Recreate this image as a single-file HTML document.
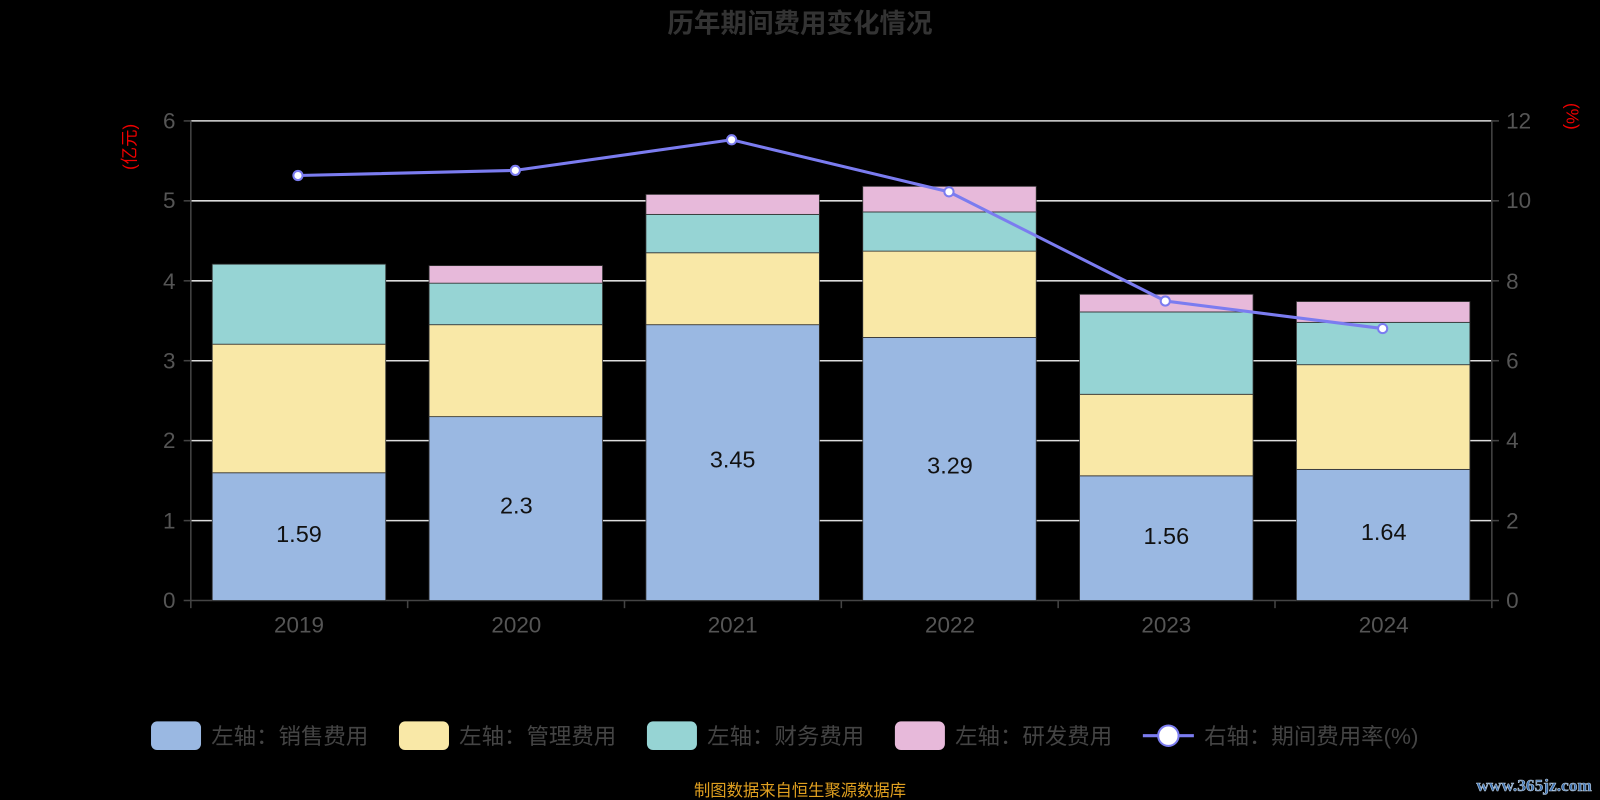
<!DOCTYPE html>
<html><head><meta charset="utf-8"><style>html,body{margin:0;padding:0;background:#000;}svg{display:block}</style></head>
<body>
<svg width="1600" height="800" viewBox="0 0 1568 784" xmlns="http://www.w3.org/2000/svg" font-family="'Liberation Sans','Noto Sans CJK SC',sans-serif">
<rect width="1568" height="784" fill="#000"/>
<text x="784" y="32" text-anchor="middle" font-size="26" font-weight="bold" fill="#333">历年期间费用变化情况</text>
<g stroke="#ddd" stroke-width="1.5">
<line x1="187" x2="1462" y1="118.5" y2="118.5"/>
<line x1="187" x2="1462" y1="196.8" y2="196.8"/>
<line x1="187" x2="1462" y1="275.2" y2="275.2"/>
<line x1="187" x2="1462" y1="353.5" y2="353.5"/>
<line x1="187" x2="1462" y1="431.8" y2="431.8"/>
<line x1="187" x2="1462" y1="510.2" y2="510.2"/>
</g>
<g stroke="#444" stroke-width="1.5" fill="none">
<line x1="187" x2="187" y1="118" y2="589"/>
<line x1="1462" x2="1462" y1="118" y2="589"/>
<line x1="187" x2="1462" y1="588.5" y2="588.5"/>
<line x1="180" x2="187" y1="118.5" y2="118.5"/><line x1="180" x2="187" y1="196.8" y2="196.8"/><line x1="180" x2="187" y1="275.2" y2="275.2"/><line x1="180" x2="187" y1="353.5" y2="353.5"/><line x1="180" x2="187" y1="431.8" y2="431.8"/><line x1="180" x2="187" y1="510.2" y2="510.2"/><line x1="180" x2="187" y1="588.5" y2="588.5"/>
<line x1="1462" x2="1469" y1="118.5" y2="118.5"/><line x1="1462" x2="1469" y1="196.8" y2="196.8"/><line x1="1462" x2="1469" y1="275.2" y2="275.2"/><line x1="1462" x2="1469" y1="353.5" y2="353.5"/><line x1="1462" x2="1469" y1="431.8" y2="431.8"/><line x1="1462" x2="1469" y1="510.2" y2="510.2"/><line x1="1462" x2="1469" y1="588.5" y2="588.5"/>
<line x1="187" x2="187" y1="589" y2="596"/><line x1="399.5" x2="399.5" y1="589" y2="596"/><line x1="612" x2="612" y1="589" y2="596"/><line x1="824.5" x2="824.5" y1="589" y2="596"/><line x1="1037" x2="1037" y1="589" y2="596"/><line x1="1249.5" x2="1249.5" y1="589" y2="596"/><line x1="1462" x2="1462" y1="589" y2="596"/>
</g>
<g fill="#555" font-size="22" text-anchor="end">
<text x="172" y="126">6</text><text x="172" y="204">5</text><text x="172" y="283">4</text><text x="172" y="361">3</text><text x="172" y="439">2</text><text x="172" y="518">1</text><text x="172" y="596">0</text>
</g>
<g fill="#555" font-size="22" text-anchor="start">
<text x="1476" y="126">12</text><text x="1476" y="204">10</text><text x="1476" y="283">8</text><text x="1476" y="361">6</text><text x="1476" y="439">4</text><text x="1476" y="518">2</text><text x="1476" y="596">0</text>
</g>
<text transform="translate(133,144) rotate(-90)" text-anchor="middle" font-size="17" fill="#e00">(亿元)</text>
<text transform="translate(1535,114) rotate(90)" text-anchor="middle" font-size="17" fill="#e00">(%)</text>
<g fill="#555" font-size="22" text-anchor="middle">
<text x="293" y="620">2019</text><text x="506" y="620">2020</text><text x="718" y="620">2021</text><text x="931" y="620">2022</text><text x="1143" y="620">2023</text><text x="1356" y="620">2024</text>
</g>
<g stroke="#333" stroke-width="0.8">
<rect x="208" y="463.3" width="170" height="125.2" fill="#9ab8e2"/>
<rect x="208" y="337.3" width="170" height="126" fill="#f9e8a7"/>
<rect x="208" y="258.9" width="170" height="78.4" fill="#96d4d4"/>
<rect x="420.5" y="408.3" width="170" height="180.2" fill="#9ab8e2"/>
<rect x="420.5" y="318.2" width="170" height="90.1" fill="#f9e8a7"/>
<rect x="420.5" y="277.5" width="170" height="40.7" fill="#96d4d4"/>
<rect x="420.5" y="260.3" width="170" height="17.2" fill="#e7b9da"/>
<rect x="633" y="318.2" width="170" height="270.3" fill="#9ab8e2"/>
<rect x="633" y="247.7" width="170" height="70.5" fill="#f9e8a7"/>
<rect x="633" y="210.1" width="170" height="37.6" fill="#96d4d4"/>
<rect x="633" y="190.5" width="170" height="19.6" fill="#e7b9da"/>
<rect x="845.5" y="330.7" width="170" height="257.8" fill="#9ab8e2"/>
<rect x="845.5" y="246.1" width="170" height="84.6" fill="#f9e8a7"/>
<rect x="845.5" y="207.7" width="170" height="38.4" fill="#96d4d4"/>
<rect x="845.5" y="182.6" width="170" height="25.1" fill="#e7b9da"/>
<rect x="1058" y="466.3" width="170" height="122.2" fill="#9ab8e2"/>
<rect x="1058" y="386.4" width="170" height="79.9" fill="#f9e8a7"/>
<rect x="1058" y="305.7" width="170" height="80.7" fill="#96d4d4"/>
<rect x="1058" y="288.4" width="170" height="17.3" fill="#e7b9da"/>
<rect x="1270.5" y="460" width="170" height="128.5" fill="#9ab8e2"/>
<rect x="1270.5" y="357.4" width="170" height="102.6" fill="#f9e8a7"/>
<rect x="1270.5" y="315.9" width="170" height="41.5" fill="#96d4d4"/>
<rect x="1270.5" y="295.5" width="170" height="20.4" fill="#e7b9da"/>
</g>
<g fill="#111" font-size="23" text-anchor="middle">
<text x="293" y="531">1.59</text><text x="506" y="503">2.3</text><text x="718" y="458">3.45</text><text x="931" y="464">3.29</text><text x="1143" y="533">1.56</text><text x="1356" y="529">1.64</text>
</g>
<polyline points="292,172 505,167 717,137 930,188 1142,295 1355,322" fill="none" stroke="#7b7cf0" stroke-width="3"/>
<g fill="#fff" stroke="#7b7cf0" stroke-width="2">
<circle cx="292" cy="172" r="4.5"/><circle cx="505" cy="167" r="4.5"/><circle cx="717" cy="137" r="4.5"/><circle cx="930" cy="188" r="4.5"/><circle cx="1142" cy="295" r="4.5"/><circle cx="1355" cy="322" r="4.5"/>
</g>
<g font-size="22" fill="#444">
<rect x="148" y="707" width="49" height="28" rx="6" fill="#9ab8e2"/><text x="207" y="729">左轴：销售费用</text>
<rect x="391" y="707" width="49" height="28" rx="6" fill="#f9e8a7"/><text x="450" y="729">左轴：管理费用</text>
<rect x="634" y="707" width="49" height="28" rx="6" fill="#96d4d4"/><text x="693" y="729">左轴：财务费用</text>
<rect x="877" y="707" width="49" height="28" rx="6" fill="#e7b9da"/><text x="936" y="729">左轴：研发费用</text>
<line x1="1120" x2="1170" y1="721" y2="721" stroke="#7b7cf0" stroke-width="3"/>
<circle cx="1145" cy="721" r="10" fill="#fff" stroke="#7b7cf0" stroke-width="2"/>
<text x="1180" y="729">右轴：期间费用率(%)</text>
</g>
<text x="784" y="780" text-anchor="middle" font-size="16" fill="#e0a020">制图数据来自恒生聚源数据库</text>
<text x="1560" y="775" text-anchor="end" font-size="17" font-weight="bold" fill="#3a6fb0" stroke="#bcd" stroke-width="0.6" font-family="'Liberation Serif',serif">www.365jz.com</text>
</svg>
</body></html>
